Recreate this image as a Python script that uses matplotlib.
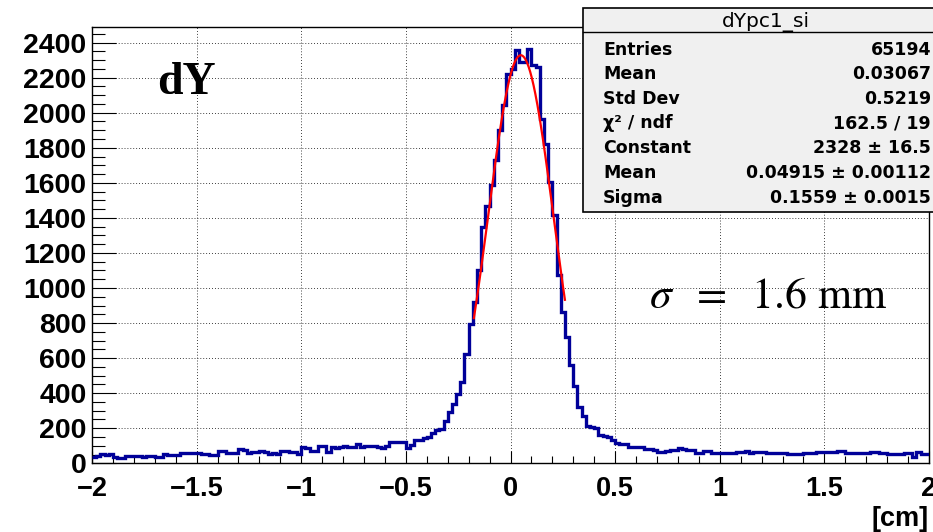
""" dY residual histogram (ROOT style) with gaussian fit and stats box """

import matplotlib.pyplot as plt
import numpy as np
from matplotlib.ticker import MultipleLocator, FuncFormatter
from matplotlib.patches import Rectangle
from matplotlib.lines import Line2D

plt.rcParams["font.family"] = ["Liberation Sans", "DejaVu Sans"]
plt.rcParams["mathtext.fontset"] = "stix"

# histogram: 200 bins of 0.02 cm between -2 and 2
x_lo, x_hi, n_bins = -2.0, 2.0, 200

# bins -2.00 .. -0.52
left_tail = [38, 39, 51, 50, 52, 38, 28, 29, 41, 42, 40, 41, 38, 39, 43, 34, 35, 51, 47, 46,
             47, 58, 57, 59, 58, 58, 55, 54, 49, 50, 71, 70, 58, 57, 58, 79, 78, 57, 64, 65,
             68, 67, 55, 56, 55, 69, 70, 64, 63, 51, 91, 90, 71, 70, 98, 97, 67, 91, 90, 92,
             100, 91, 92, 108, 95, 98, 98, 96, 95, 88, 99, 119, 121, 123, 122]
# bins -0.50 .. 0.48
core = [85, 104, 133, 133, 146, 150, 175, 192, 196, 244,
        295, 339, 396, 463, 625, 792, 920, 1101, 1347, 1470,
        1590, 1728, 1899, 2042, 2223, 2251, 2356, 2290, 2290, 2366,
        2270, 2262, 1966, 1823, 1604, 1415, 1072, 863, 720, 562,
        440, 324, 272, 211, 205, 200, 160, 153, 150, 135]
# bins 0.50 .. 1.98
right_tail = [116, 108, 108, 93, 93, 92, 93, 84, 84, 75, 65, 65, 71, 76, 76, 85, 84, 76, 76, 60,
              61, 71, 70, 57, 58, 57, 56, 58, 57, 67, 66, 71, 57, 63, 62, 63, 57, 56, 57, 58,
              57, 53, 53, 52, 54, 60, 60, 61, 67, 66, 63, 62, 63, 71, 70, 57, 56, 58, 57, 57,
              56, 63, 62, 59, 58, 53, 54, 52, 53, 60, 61, 38, 63, 53, 54]

# gaus fit result (from stats box)
fit_const, fit_mean, fit_sigma = 2328.0, 0.04915, 0.1559
fit_lo, fit_hi = -0.175, 0.26

stat_labels = ["Entries", "Mean", "Std Dev", "\u03c7\u00b2 / ndf", "Constant", "Mean", "Sigma"]
stat_values = ["65194", "0.03067", "0.5219", "162.5 / 19",
               "2328 \u00b1 16.5", "0.04915 \u00b1 0.00112", "0.1559 \u00b1 0.0015"]

W, H = 933, 532
fig = plt.figure(figsize=(W / 100, H / 100), dpi=100)


def fx(px):
    return px / W


def fy(py):
    return 1 - py / H


ax = fig.add_axes([fx(92), fy(463.3), fx(929) - fx(92), fy(27) - fy(463.3)])

counts = np.array(left_tail + core + right_tail, dtype=float)
edges = np.linspace(x_lo, x_hi, n_bins + 1)
ax.stairs(counts, edges, color="#000099", lw=2.4, baseline=None, zorder=3)

xf = np.linspace(fit_lo, fit_hi, 300)
ax.plot(xf, fit_const * np.exp(-0.5 * ((xf - fit_mean) / fit_sigma) ** 2),
        color="red", lw=1.6, zorder=4)

ax.set_xlim(x_lo, x_hi)
ax.set_ylim(0, 2489)

ax.xaxis.set_major_locator(MultipleLocator(0.5))
ax.xaxis.set_minor_locator(MultipleLocator(0.1))
ax.yaxis.set_major_locator(MultipleLocator(200))
ax.yaxis.set_minor_locator(MultipleLocator(50))
ax.xaxis.set_major_formatter(FuncFormatter(lambda v, p: ("%g" % v).replace("-", "\u2212")))

ax.tick_params(axis="y", which="major", direction="in", length=17, width=0.8, labelsize=20.5, pad=4)
ax.tick_params(axis="y", which="minor", direction="in", length=9.4, width=0.8)
ax.tick_params(axis="x", which="major", direction="in", length=8.6, width=0.8, labelsize=19.5, pad=9)
ax.tick_params(axis="x", which="minor", direction="in", length=5, width=0.8)
ax.tick_params(top=False, right=False)
plt.setp(ax.get_xticklabels() + ax.get_yticklabels(), fontweight="bold")

ax.grid(True, which="major", color="black", linestyle=(0, (1, 2.5)), linewidth=0.6)
ax.set_axisbelow(True)
for s in ax.spines.values():
    s.set_linewidth(1.0)

# annotations
fig.text(fx(157), fy(94), "dY", family="Liberation Serif", weight="bold", fontsize=33, va="baseline")
fig.text(fx(649), fy(308), r"$\sigma\;\ =\;\ 1.6\ \mathrm{mm}$", fontsize=31.5, va="baseline")
fig.text(fx(929), fy(519), "[cm]", ha="right", va="center", fontsize=19.5, weight="bold")

# stats box
fig.add_artist(Rectangle((fx(583), fy(212)), fx(945) - fx(583), fy(8) - fy(212),
                         transform=fig.transFigure, facecolor="#f0f0f0",
                         edgecolor="black", lw=1.2, zorder=5))
fig.add_artist(Line2D([fx(583), fx(945)], [fy(32), fy(32)], transform=fig.transFigure,
                      color="black", lw=1.0, zorder=6))
fig.text(fx(766), fy(26.5), "dYpc1_si", ha="center", va="baseline", fontsize=14.5,
         family="DejaVu Sans", zorder=7)
row_y = [54.7, 79.1, 104.1, 128.1, 153.1, 178.1, 203.1]
for lab, val, yy in zip(stat_labels, stat_values, row_y):
    fig.text(fx(603), fy(yy), lab, ha="left", va="baseline", fontsize=12.5,
             family="DejaVu Sans", weight="bold", zorder=7)
    fig.text(fx(931), fy(yy), val, ha="right", va="baseline", fontsize=12.5,
             family="DejaVu Sans", weight="bold", zorder=7)

fig.savefig("out.png", dpi=100)
